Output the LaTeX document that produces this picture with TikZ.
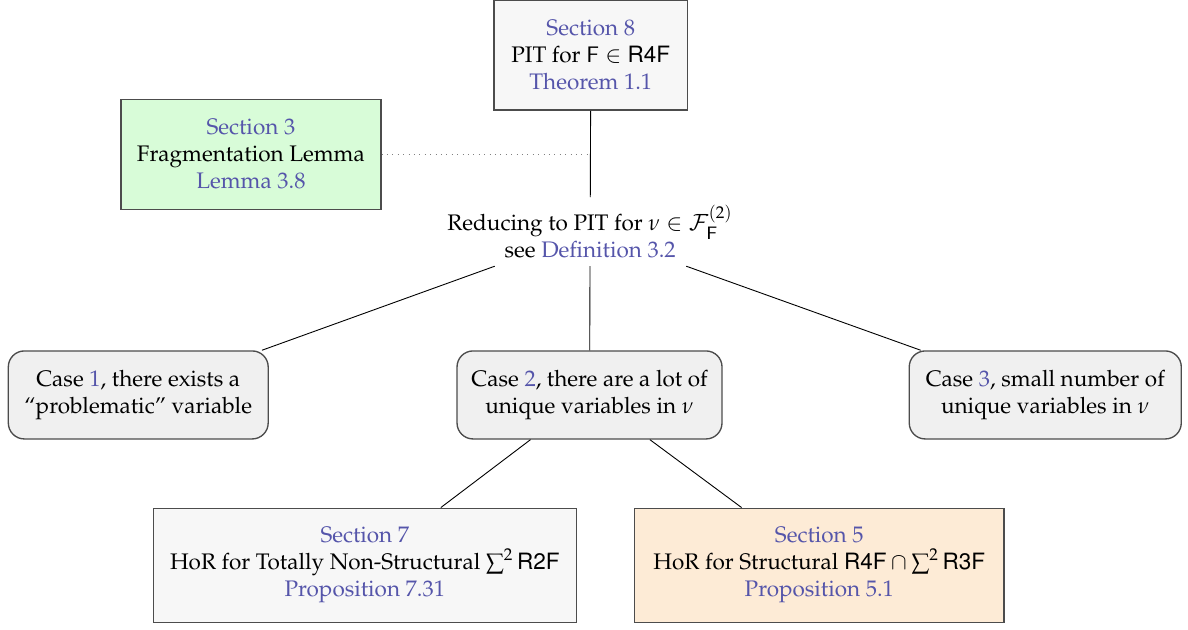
\documentclass[tikz,border=0pt]{standalone}
\usepackage[T1]{fontenc}
\usepackage{amsmath, amssymb}
\usepackage{mathpazo}
\usepackage{helvet}
\usepackage{tikz}
\usetikzlibrary{positioning, calc}
\definecolor{refBlue}{HTML}{5555AA}
\definecolor{boxGray}{HTML}{F7F7F7}
\definecolor{caseGray}{HTML}{F0F0F0}
\definecolor{lemmaGreen}{HTML}{D8FCD8}
\definecolor{propOrange}{HTML}{FDEBD6}

\begin{document}
\begin{tikzpicture}[
    secbox/.style={draw=black!70, semithick, align=center, minimum height=1.72cm},
    casebox/.style={draw=black!70, semithick, fill=caseGray, rounded corners=2.5mm, align=center, minimum height=1.375cm}]
  \useasboundingbox (0,0) rectangle (18.56,-9.83);
  % sections on top
  \node[secbox, fill=boxGray, minimum width=3.02cm] (pit) at (9.23,-0.86)
    {\textcolor{refBlue}{Section 8}\\ PIT for $\mathsf{F}\in\textsf{R4F}$\\ \textcolor{refBlue}{Theorem 1.1}};
  \node[secbox, fill=lemmaGreen, minimum width=4.06cm] (frag) at (3.92,-2.41)
    {\textcolor{refBlue}{Section 3}\\ Fragmentation Lemma\\ \textcolor{refBlue}{Lemma 3.8}};
  \node[align=center] (reduce) at (9.22,-3.62)
    {Reducing to PIT for $\nu\in\mathcal{F}_{\mathsf{F}}^{(2)}$\\ see \textcolor{refBlue}{Definition 3.2}};
  % the three cases
  \node[casebox, minimum width=4.06cm] (case1) at (2.16,-6.17)
    {Case \textcolor{refBlue}{1}, there exists a\\ ``problematic'' variable};
  \node[casebox, minimum width=4.14cm] (case2) at (9.21,-6.17)
    {Case \textcolor{refBlue}{2}, there are a lot of\\ unique variables in $\nu$};
  \node[casebox, minimum width=4.25cm] (case3) at (16.33,-6.17)
    {Case \textcolor{refBlue}{3}, small number of\\ unique variables in $\nu$};
  % results for case 2
  \node[secbox, fill=boxGray, minimum width=6.61cm, minimum height=1.78cm] (nonstruct) at (5.70,-8.83)
    {\textcolor{refBlue}{Section 7}\\ HoR for Totally Non-Structural $\sum^2\textsf{R2F}$\\ \textcolor{refBlue}{Proposition 7.31}};
  \node[secbox, fill=propOrange, minimum width=5.77cm, minimum height=1.78cm] (struct) at (12.80,-8.83)
    {\textcolor{refBlue}{Section 5}\\ HoR for Structural $\textsf{R4F}\cap\sum^2\textsf{R3F}$\\ \textcolor{refBlue}{Proposition 5.1}};

  \draw (pit) -- (reduce);
  \draw[dotted, black!50] (frag) -- (frag -| pit);
  \foreach \c in {case1, case2, case3}
    \draw (reduce) -- (\c);
  \draw (case2) -- (nonstruct);
  \draw (case2) -- (struct);
\end{tikzpicture}
\end{document}
